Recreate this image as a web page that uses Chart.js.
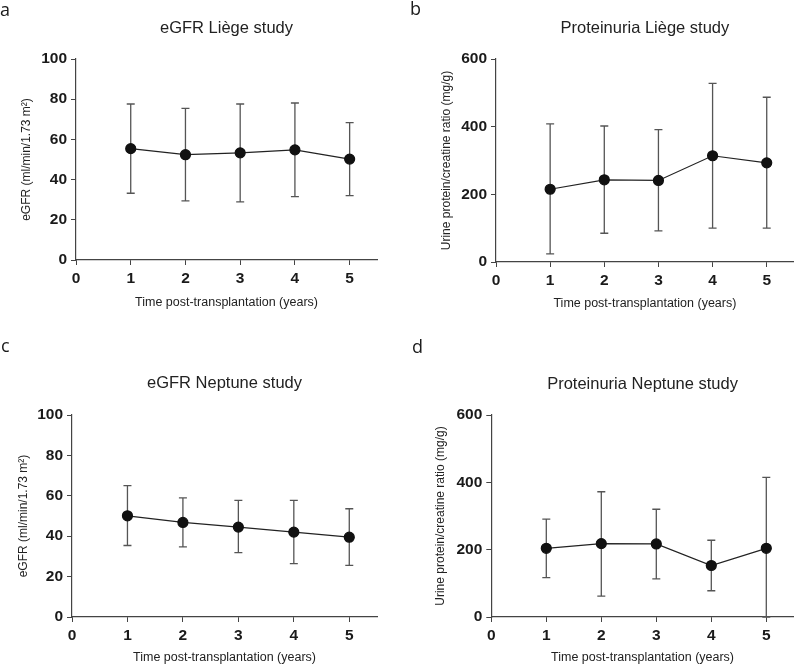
<!DOCTYPE html>
<html>
<head>
<meta charset="utf-8">
<script src="https://cdn.jsdelivr.net/npm/chart.js@4"></script>
<style>
  body { margin: 0; background: #fff; }
  #wrap { position: relative; width: 800px; height: 665px; overflow: hidden; }
  canvas { position: absolute; }
  .tag { position: absolute; font-family: "Open Sans", sans-serif; font-size: 18px; color: #1a1a1a; line-height: 1; }
</style>
</head>
<body>
<div id="wrap">
  <canvas id="chartA" width="400" height="315" style="left:0;top:0"></canvas>
  <canvas id="chartB" width="400" height="315" style="left:400px;top:0"></canvas>
  <canvas id="chartC" width="400" height="335" style="left:0;top:330px"></canvas>
  <canvas id="chartD" width="400" height="335" style="left:400px;top:330px"></canvas>
  <div class="tag" style="left:0;top:0">a</div>
  <div class="tag" style="left:410px;top:-1px">b</div>
  <div class="tag" style="left:1px;top:336px">c</div>
  <div class="tag" style="left:412px;top:337px">d</div>
</div>
<script>
// years after transplantation
const years = [1, 2, 3, 4, 5];
const xTicks = [0, 1, 2, 3, 4, 5];

// a - eGFR Liège
const egfrLiegeMean = [55.4, 52.4, 53.3, 54.8, 50.2];
const egfrLiegeLow = [33.2, 29.4, 28.9, 31.5, 32.0];
const egfrLiegeHigh = [77.6, 75.4, 77.6, 78.1, 68.3];

// b - proteinuria Liège
const protLiegeMean = [215, 243, 241, 314, 293];
const protLiegeLow = [24, 85, 92, 100, 100];
const protLiegeHigh = [408, 402, 391, 528, 487];

// c - eGFR Neptune
const egfrNeptMean = [50.1, 46.8, 44.5, 42.0, 39.5];
const egfrNeptLow = [35.4, 34.7, 31.9, 26.4, 25.6];
const egfrNeptHigh = [65.0, 59.0, 57.7, 57.7, 53.6];

// d - proteinuria Neptune
const protNeptMean = [204, 218, 217, 153, 204];
const protNeptLow = [117, 62, 113, 78, 0];
const protNeptHigh = [291, 372, 320, 228, 415];

const egfrTicks = [0, 20, 40, 60, 80, 100];
const protTicks = [0, 200, 400, 600];

const axisColor = "#444";
const fam = "'Liberation Sans', Arial, sans-serif";
const tickFont = { family: fam, size: 15.5, weight: "bold" };

const errorBars = {
  id: "errorBars",
  beforeDatasetsDraw(chart, args, opts) {
    const ctx = chart.ctx;
    const x = chart.scales.x;
    const y = chart.scales.y;
    ctx.save();
    ctx.strokeStyle = "#555";
    ctx.lineWidth = 1.3;
    opts.low.forEach((lo, i) => {
      const px = x.getPixelForValue(years[i]);
      const top = y.getPixelForValue(opts.high[i]);
      const bot = y.getPixelForValue(lo);
      ctx.beginPath();
      ctx.moveTo(px, top);
      ctx.lineTo(px, bot);
      ctx.moveTo(px - 4, top);
      ctx.lineTo(px + 4, top);
      ctx.moveTo(px - 4, bot);
      ctx.lineTo(px + 4, bot);
      ctx.stroke();
    });
    ctx.restore();
  },
};

function panel(id, p) {
  const W = 400, H = p.H;
  const lh = 16.5 * 1.2;
  const ylh = 12 * 1.2;
  const xlh = 12.5 * 1.2;
  const padLeft = p.yTitleX - ylh / 2;
  new Chart(document.getElementById(id), {
    type: "line",
    data: {
      datasets: [{
        data: years.map((yr, i) => ({ x: yr, y: p.mean[i] })),
        borderColor: "#222",
        borderWidth: 1.2,
        pointRadius: 5,
        pointBackgroundColor: "#111",
        pointBorderColor: "#111",
        tension: 0,
      }],
    },
    options: {
      responsive: false,
      animation: false,
      devicePixelRatio: 1,
      layout: { padding: { left: padLeft, right: W - p.right, top: 0, bottom: 0 } },
      plugins: {
        legend: { display: false },
        tooltip: { enabled: false },
        title: {
          display: true,
          fullSize: false,
          text: p.title,
          color: "#222",
          font: { family: fam, size: 16.5, weight: "normal" },
          padding: { top: p.titleY - lh / 2, bottom: p.top - p.titleY - lh / 2 },
        },
        errorBars: { low: p.low, high: p.high },
      },
      scales: {
        x: {
          type: "linear",
          min: 0,
          max: 5.5,
          afterBuildTicks: (s) => { s.ticks = xTicks.map((v) => ({ value: v })); },
          afterFit: (s) => { s.height = H - p.bottom; },
          ticks: { font: tickFont, color: "#1a1a1a", padding: 4, maxRotation: 0 },
          grid: { drawOnChartArea: false, tickLength: 5, color: axisColor },
          border: { color: axisColor, width: 1.2 },
          title: {
            display: true,
            text: "Time post-transplantation (years)",
            color: "#222",
            font: { family: fam, size: 12.5 },
            padding: { top: 0, bottom: Math.max(0, H - p.xTitleY - xlh / 2) },
          },
        },
        y: {
          min: 0,
          max: p.yTicks[p.yTicks.length - 1],
          afterBuildTicks: (s) => { s.ticks = p.yTicks.map((v) => ({ value: v })); },
          afterFit: (s) => { s.width = p.left - padLeft; },
          ticks: { font: tickFont, color: "#1a1a1a", padding: 4 },
          grid: { drawOnChartArea: false, tickLength: 5, color: axisColor },
          border: { color: axisColor, width: 1.2 },
          title: {
            display: true,
            text: p.yTitle,
            color: "#222",
            font: { family: fam, size: 12 },
            padding: { top: 0, bottom: 0 },
          },
        },
      },
    },
    plugins: [errorBars],
  });
}

panel("chartA", {
  H: 315, title: "eGFR Liège study", yTitle: "eGFR (ml/min/1.73 m²)",
  yTicks: egfrTicks, mean: egfrLiegeMean, low: egfrLiegeLow, high: egfrLiegeHigh,
  left: 76, right: 377, top: 59, bottom: 260, titleY: 28, yTitleX: 27, xTitleY: 303,
});
panel("chartB", {
  H: 315, title: "Proteinuria Liège study", yTitle: "Urine protein/creatine ratio (mg/g)",
  yTicks: protTicks, mean: protLiegeMean, low: protLiegeLow, high: protLiegeHigh,
  left: 96, right: 400, top: 59, bottom: 262, titleY: 28, yTitleX: 46.7, xTitleY: 304,
});
panel("chartC", {
  H: 335, title: "eGFR Neptune study", yTitle: "eGFR (ml/min/1.73 m²)",
  yTicks: egfrTicks, mean: egfrNeptMean, low: egfrNeptLow, high: egfrNeptHigh,
  left: 72, right: 377, top: 85, bottom: 287, titleY: 53, yTitleX: 24, xTitleY: 328,
});
panel("chartD", {
  H: 335, title: "Proteinuria Neptune study", yTitle: "Urine protein/creatine ratio (mg/g)",
  yTicks: protTicks, mean: protNeptMean, low: protNeptLow, high: protNeptHigh,
  left: 91.3, right: 396.7, top: 85, bottom: 287, titleY: 54, yTitleX: 40.7, xTitleY: 330,
});
</script>
</body>
</html>
